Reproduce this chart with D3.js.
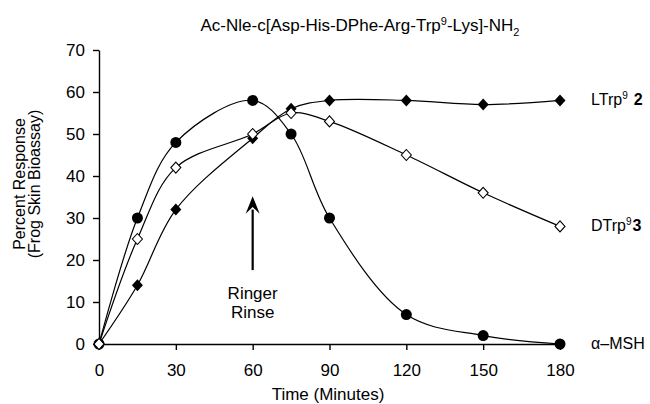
<!DOCTYPE html>
<html>
<head>
<meta charset="utf-8">
<script src="https://cdn.jsdelivr.net/npm/d3@7"></script>
<style>
  body { margin: 0; background: #fff; }
  #chart { width: 650px; height: 404px; }
  text { font-family: "Liberation Sans", Arial, sans-serif; fill: #000; }
  .axis path, .axis line { stroke: #000; stroke-width: 1.4; }
  .axis text { font-size: 17px; font-family: "Liberation Sans", Arial, sans-serif; }
</style>
</head>
<body>
<div id="chart"></div>
<script>
// data
const times = [0, 15, 30, 60, 75, 90, 120, 150, 180];
const msh = [0, 30, 48, 58, 50, 30, 7, 2, 0];
const ltrp = [0, 14, 32, 49, 56, 58, 58, 57, 58];
const dtrp = [0, 25, 42, 50, 55, 53, 45, 36, 28];
const xTicks = [0, 30, 60, 90, 120, 150, 180];
const yTicks = [0, 10, 20, 30, 40, 50, 60, 70];

/*
  SVG CANVAS
*/
const width = 650;
const height = 404;
const margin = {top: 50, left: 99, right: 90, bottom: 60};

const canvas = d3.select("#chart")
    .append("svg")
    .attr("width", width)
    .attr("height", height);

/*
  SCALES
*/
const xScale = d3.scaleLinear()
    .domain([0, 180])
    .range([margin.left, width - margin.right]);

const yScale = d3.scaleLinear()
    .domain([0, 70])
    .range([height - margin.bottom, margin.top]);

/*
  AXES
*/
canvas.append("g")
    .attr("class", "axis")
    .attr("transform", `translate(0,${height - margin.bottom})`)
    .call(d3.axisBottom(xScale).tickValues(xTicks).tickSize(6).tickSizeOuter(0).tickPadding(14));

canvas.append("g")
    .attr("class", "axis")
    .attr("transform", `translate(${margin.left},0)`)
    .call(d3.axisLeft(yScale).tickValues(yTicks).tickSize(6).tickSizeOuter(0).tickPadding(8));

canvas.selectAll(".axis .tick text").attr("fill", "#000");

/*
  TITLE AND LABELS
*/
const title = canvas.append("text")
    .attr("x", 360)
    .attr("y", 31)
    .attr("text-anchor", "middle")
    .style("font-size", "17px");
title.append("tspan").text("Ac-Nle-c[Asp-His-DPhe-Arg-Trp");
title.append("tspan").attr("dy", -6).style("font-size", "11px").text("9");
title.append("tspan").attr("dy", 6).text("-Lys]-NH");
title.append("tspan").attr("dy", 5).style("font-size", "11px").text("2");

canvas.append("text")
    .attr("x", 328)
    .attr("y", 400)
    .attr("text-anchor", "middle")
    .style("font-size", "17px")
    .text("Time (Minutes)");

const yLabel = canvas.append("text")
    .attr("transform", "translate(25,184) rotate(-90)")
    .attr("text-anchor", "middle")
    .style("font-size", "16px");
yLabel.append("tspan").attr("x", 0).attr("y", 0).text("Percent Response");
yLabel.append("tspan").attr("x", 0).attr("y", 15).text("(Frog Skin Bioassay)");

/*
  RINGER RINSE ARROW
*/
const ax = xScale(60);
canvas.append("line")
    .attr("x1", ax).attr("x2", ax)
    .attr("y1", yScale(17.6)).attr("y2", yScale(32))
    .attr("stroke", "#000")
    .attr("stroke-width", 2.2);
canvas.append("path")
    .attr("d", `M${ax},${yScale(35.2)} L${ax - 7},${yScale(31)} L${ax},${yScale(32.6)} L${ax + 7},${yScale(31)} Z`)
    .attr("fill", "#000");
canvas.append("text")
    .attr("x", ax).attr("y", 299)
    .attr("text-anchor", "middle")
    .style("font-size", "17px")
    .text("Ringer");
canvas.append("text")
    .attr("x", ax).attr("y", 318)
    .attr("text-anchor", "middle")
    .style("font-size", "17px")
    .text("Rinse");

/*
  LINES
*/
const series = [
    {name: "msh", values: msh, marker: "circle"},
    {name: "ltrp", values: ltrp, marker: "filled"},
    {name: "dtrp", values: dtrp, marker: "open"}
];

const line = d3.line()
    .x(function(d, i) { return xScale(times[i]); })
    .y(function(d) { return yScale(d); })
    .curve(d3.curveCatmullRom.alpha(0.5));

canvas.selectAll(".series")
    .data(series)
    .enter()
    .append("path")
        .attr("class", "series")
        .attr("d", function(d) { return line(d.values); })
        .attr("fill", "none")
        .attr("stroke", "#000")
        .attr("stroke-width", 1.2);

/*
  MARKERS
*/
function diamond(w, h) {
    return `M0,${-h} L${w},0 L0,${h} L${-w},0 Z`;
}

series.forEach(function(s) {
    const g = canvas.append("g");
    const pts = g.selectAll("g")
        .data(s.values)
        .enter()
        .append("g")
        .attr("transform", function(d, i) { return `translate(${xScale(times[i])},${yScale(d)})`; });
    if (s.marker === "circle") {
        pts.append("circle").attr("r", 5.5).attr("fill", "#000");
    } else if (s.marker === "filled") {
        pts.append("path").attr("d", diamond(5.5, 6)).attr("fill", "#000");
    } else {
        pts.append("path").attr("d", diamond(5, 5.5))
            .attr("fill", "#fff").attr("stroke", "#000").attr("stroke-width", 1.1);
    }
});

/*
  SERIES LABELS
*/
const lx = 591;
const l1 = canvas.append("text").attr("x", lx).attr("y", yScale(58) + 5).style("font-size", "16px");
l1.append("tspan").text("LTrp");
l1.append("tspan").attr("dy", -6).style("font-size", "10px").text("9");
l1.append("tspan").attr("dy", 6).attr("dx", 6).style("font-weight", "bold").text("2");

const l2 = canvas.append("text").attr("x", lx).attr("y", yScale(28) + 5).style("font-size", "16px");
l2.append("tspan").text("DTrp");
l2.append("tspan").attr("dy", -6).style("font-size", "10px").text("9");
l2.append("tspan").attr("dy", 6).attr("dx", 1).style("font-weight", "bold").text("3");

canvas.append("text").attr("x", lx).attr("y", yScale(0) + 5)
    .style("font-size", "16px")
    .text("α–MSH");
</script>
</body>
</html>
